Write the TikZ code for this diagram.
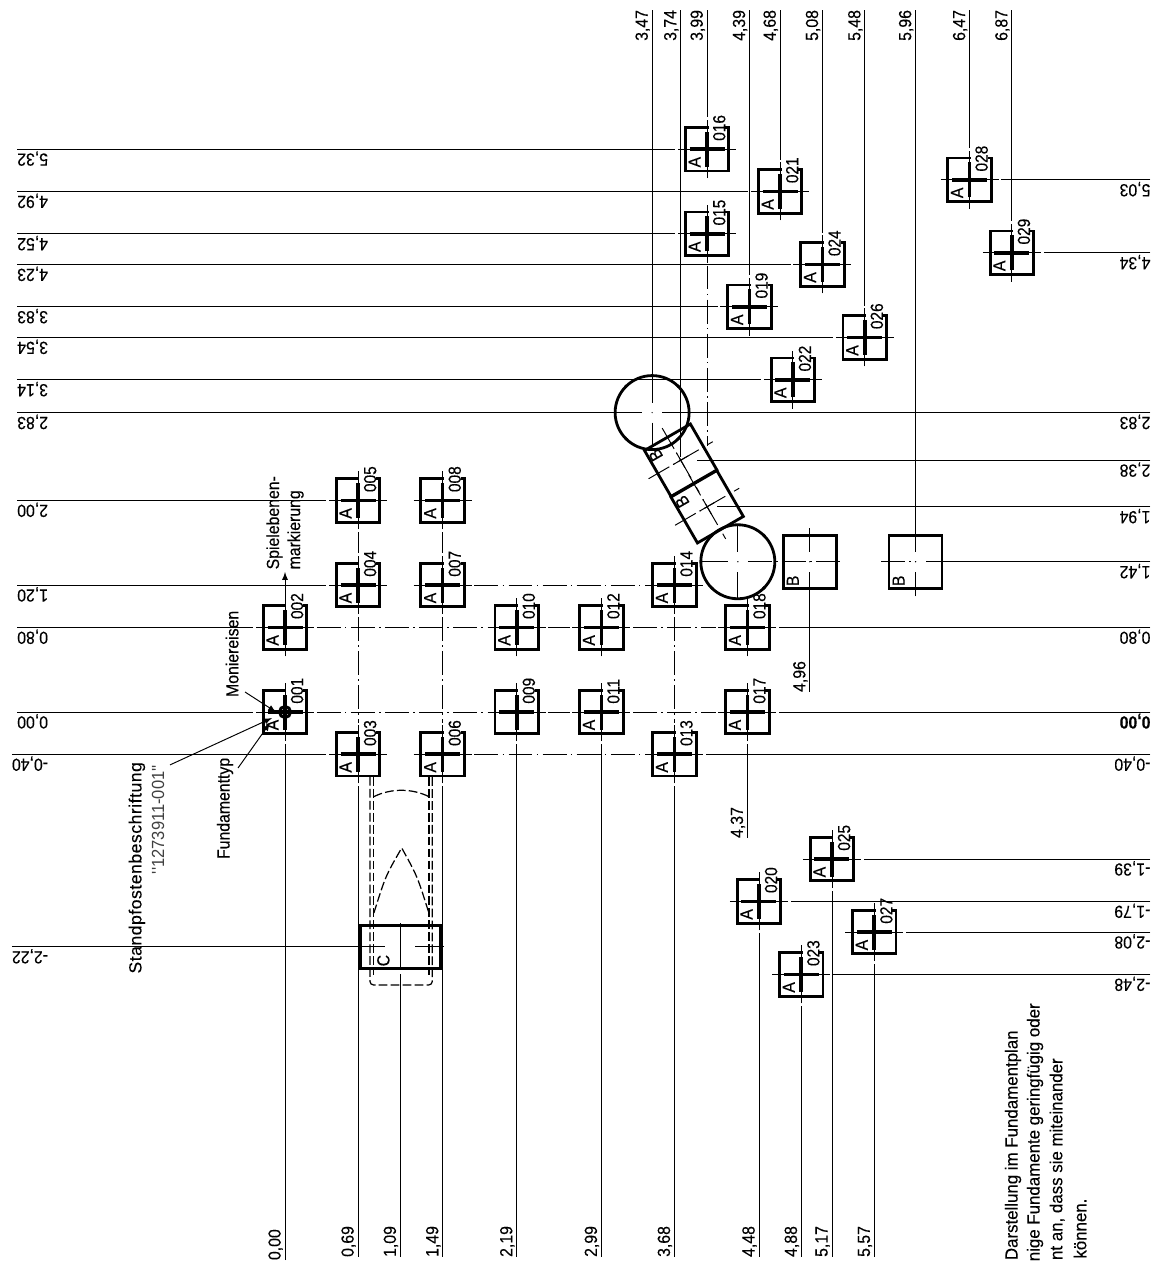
\documentclass[tikz,border=0pt]{standalone}
\usepackage{fontspec}
\setmainfont[FakeStretch=0.9,FakeBold=.2]{Liberation Sans}
\newfontfamily\numfont[FakeStretch=0.88,FakeBold=.2]{Liberation Sans}
\newfontfamily\notefont[FakeStretch=0.9,FakeBold=.2]{Liberation Sans}
\newfontfamily\longfont[FakeStretch=0.96,FakeBold=.2]{Liberation Sans}
\newfontfamily\widefont[LetterSpace=3,FakeBold=.2]{Liberation Sans}
\newfontfamily\thinfont[FakeStretch=0.94]{Liberation Sans}
\usetikzlibrary{positioning}
\tikzset{
  fundbox/.style={rectangle,draw,line width=1.6pt,minimum size=.87cm,inner sep=0pt,outer sep=0pt},
  sqbox/.style={rectangle,draw,line width=1.6pt,minimum size=1.06cm,inner sep=0pt,outer sep=0pt},
  rundbox/.style={circle,draw,line width=1.6pt,minimum size=1.48cm,inner sep=0pt,outer sep=0pt},
  cbox/.style={rectangle,draw,line width=1.6pt,minimum width=1.6cm,minimum height=.87cm,inner sep=0pt,outer sep=0pt},
  tag/.style={rotate=90,inner sep=0pt},
  numtag/.style={rotate=90,anchor=south west,fill=white,inner sep=0pt,text height=9.5pt,text depth=0pt,font=\numfont},
  arm/.style={line width=.55pt},
  bar/.style={line width=2.1pt},
  dimlab/.style={inner xsep=0pt,inner ysep=1pt,text height=7.2pt,text depth=1.5pt,outer sep=0pt},
  toplab/.style={dimlab,rotate=90,anchor=south east},
  botlab/.style={dimlab,rotate=90,anchor=south west},
  sidelab/.style={dimlab,rotate=180,anchor=south west},
  dimline/.style={line width=.55pt,shorten >=5.7pt},
  plainline/.style={line width=.55pt},
  axisline/.style={line width=.55pt,dash pattern=on 13.6pt off 2.5pt on .8pt off 2.5pt},
  gridline/.style={axisline,shorten >=5.7pt,shorten <=5.7pt},
  hidden/.style={line width=.7pt,dash pattern=on 5pt off 1.8pt},
  lead/.style={line width=.55pt,-latex},
  note/.style={rotate=90,inner sep=0pt,font=\notefont},
  longnote/.style={note,font=\longfont}
}
\newcommand{\fund}[3][A]{%
  \node[fundbox] (f#2) at (#3) {};
  \node[numtag] (n#2) at ([shift={(.37cm,.16cm)}]f#2.center) {#2};
  \node[tag] (a#2) at ([shift={(-.25cm,-.26cm)}]f#2.center) {#1};
  \draw[arm] ([xshift=-.58cm]f#2.center) -- ([xshift=.58cm]f#2.center);
  \draw[arm] ([yshift=-.58cm]f#2.center) -- ([yshift=.58cm]f#2.center);
  \draw[bar] ([xshift=-.35cm]f#2.center) -- ([xshift=.35cm]f#2.center);
  \draw[bar] ([yshift=-.35cm]f#2.center) -- ([yshift=.35cm]f#2.center);
}
\begin{document}
\begin{tikzpicture}[x=2.116cm,y=2.116cm]
  \useasboundingbox (-2.694,6.730) rectangle (8.232,-5.227);
  \fund{001}{0,0}
  \fund{002}{0,.80}
  \fund{003}{.69,-.40}
  \fund{004}{.69,1.20}
  \fund{005}{.69,2.00}
  \fund{006}{1.49,-.40}
  \fund{007}{1.49,1.20}
  \fund{008}{1.49,2.00}
  \fund[]{009}{2.19,0}
  \fund{010}{2.19,.80}
  \fund{011}{2.99,0}
  \fund{012}{2.99,.80}
  \fund{013}{3.68,-.40}
  \fund{014}{3.68,1.20}
  \fund{015}{3.99,4.52}
  \fund{016}{3.99,5.32}
  \fund{017}{4.37,0}
  \fund{018}{4.37,.80}
  \fund{019}{4.39,3.83}
  \fund{020}{4.48,-1.79}
  \fund{021}{4.68,4.92}
  \fund{022}{4.80,3.14}
  \fund{023}{4.88,-2.48}
  \fund{024}{5.08,4.23}
  \fund{025}{5.17,-1.39}
  \fund{026}{5.48,3.54}
  \fund{027}{5.57,-2.08}
  \fund{028}{6.47,5.03}
  \fund{029}{6.87,4.34}

  \node[rundbox] (k1) at (3.47,2.83) {};
  \node[rundbox] (k2) at (4.28,1.42) {};
  \node[sqbox,rotate=-60] (r1) at (3.74,2.38) {};
  \node[sqbox,rotate=-60] (r2) at (3.99,1.94) {};
  \node[sqbox] (q1) at (4.96,1.42) {};
  \node[sqbox] (q2) at (5.96,1.42) {};
  \node[cbox] (c1) at (1.09,-2.22) {};
  \node[tag,rotate=30] (b1) at (3.504,2.429) {B};
  \node[tag,rotate=30] (b2) at (3.754,1.989) {B};
  \node[tag] (b3) at ([shift={(-.34cm,-.38cm)}]q1.center) {B};
  \node[tag] (b4) at ([shift={(-.34cm,-.38cm)}]q2.center) {B};
  \node[tag] (c2) at (.93,-2.35) {C};

  \node[toplab] (t347) at (3.47,6.635) {3,47};
  \node[toplab] (t374) at (3.74,6.635) {3,74};
  \node[toplab] (t399) at (3.99,6.635) {3,99};
  \node[toplab] (t439) at (4.39,6.635) {4,39};
  \node[toplab] (t468) at (4.68,6.635) {4,68};
  \node[toplab] (t508) at (5.08,6.635) {5,08};
  \node[toplab] (t548) at (5.48,6.635) {5,48};
  \node[toplab] (t596) at (5.96,6.635) {5,96};
  \node[toplab] (t647) at (6.47,6.635) {6,47};
  \node[toplab] (t687) at (6.87,6.635) {6,87};

  \node[botlab] (b000) at (0,-5.18) {0,00};
  \node[botlab] (b069) at (.69,-5.15) {0,69};
  \node[botlab] (b109) at (1.09,-5.15) {1,09};
  \node[botlab] (b149) at (1.49,-5.15) {1,49};
  \node[botlab] (b219) at (2.19,-5.15) {2,19};
  \node[botlab] (b299) at (2.99,-5.15) {2,99};
  \node[botlab] (b368) at (3.68,-5.15) {3,68};
  \node[botlab] (b448) at (4.48,-5.15) {4,48};
  \node[botlab] (b488) at (4.88,-5.15) {4,88};
  \node[botlab] (b517) at (5.17,-5.15) {5,17};
  \node[botlab] (b557) at (5.57,-5.15) {5,57};
  \node[botlab] (b437) at (4.37,-1.19) {4,37};
  \node[botlab] (b496) at (4.96,.19) {4,96};

  \node[sidelab] (l532) at (-2.24,5.32) {5,32};
  \node[sidelab] (l492) at (-2.24,4.92) {4,92};
  \node[sidelab] (l452) at (-2.24,4.52) {4,52};
  \node[sidelab] (l423) at (-2.24,4.23) {4,23};
  \node[sidelab] (l383) at (-2.24,3.83) {3,83};
  \node[sidelab] (l354) at (-2.24,3.54) {3,54};
  \node[sidelab] (l314) at (-2.24,3.14) {3,14};
  \node[sidelab] (l283) at (-2.24,2.83) {2,83};
  \node[sidelab] (l200) at (-2.24,2.00) {2,00};
  \node[sidelab] (l120) at (-2.24,1.20) {1,20};
  \node[sidelab] (l080) at (-2.24,.80) {0,80};
  \node[sidelab] (l000) at (-2.24,0) {0,00};
  \node[sidelab] (lm040) at (-2.24,-.40) {-0,40};
  \node[sidelab] (lm222) at (-2.24,-2.22) {-2,22};

  \node[sidelab] (r503) at (8.18,5.03) {5,03};
  \node[sidelab] (r434) at (8.18,4.34) {4,34};
  \node[sidelab] (r283) at (8.18,2.83) {2,83};
  \node[sidelab] (r238) at (8.18,2.38) {2,38};
  \node[sidelab] (r194) at (8.18,1.94) {1,94};
  \node[sidelab] (r142) at (8.18,1.42) {1,42};
  \node[sidelab] (r080) at (8.18,.80) {0,80};
  \node[sidelab,font=\bfseries] (r000) at (8.18,0) {0,00};
  \node[sidelab] (rm040) at (8.18,-.40) {-0,40};
  \node[sidelab] (rm139) at (8.18,-1.39) {-1,39};
  \node[sidelab] (rm179) at (8.18,-1.79) {-1,79};
  \node[sidelab] (rm208) at (8.18,-2.08) {-2,08};
  \node[sidelab] (rm248) at (8.18,-2.48) {-2,48};

  \node[note,anchor=west,align=left] (spiel) at (0,1.345) {Spielebenen-\\markierung};
  \node[note,anchor=east] (moni) at (-.50,.96) {Moniereisen};
  \node[note,anchor=east] (typ) at (-.567,-.43) {Fundamenttyp};
  \node[note,anchor=east,font=\widefont] (stand) at (-1.40,-.47) {Standpfostenbeschriftung};
  \node[note,anchor=east,font=\thinfont,text=black!75] (nummer) at (-1.20,-.50) {''1273911-001''};
  \node[longnote,anchor=east] (text1) at (6.881,-3.006) {Darstellung im Fundamentplan};
  \node[longnote,anchor=east] (text2) at (7.089,-2.75) {nige Fundamente geringfügig oder};
  \node[longnote,anchor=east] (text3) at (7.297,-3.27) {nt an, dass sie miteinander};
  \node[longnote,anchor=west] (text4) at (7.514,-5.17) {können.};

  \coordinate (pfeil) at (0,1.323);
  \coordinate (m1) at (-.378,.189);
  \coordinate (m2) at (-.085,0);
  \coordinate (t1) at (-.444,-.529);
  \coordinate (t2) at (-.142,-.104);
  \coordinate (s1) at (-1.087,-.50);
  \coordinate (s2) at (-.123,-.057);
  \coordinate (k1s) at (3.47,2.505);
  \coordinate (x399) at (3.99,2.51);

  \path[dimline]
  (l532.south east) edge (f016.west)
  (l492.south east) edge (f021.west)
  (l452.south east) edge (f015.west)
  (l423.south east) edge (f024.west)
  (l383.south east) edge (f019.west)
  (l354.south east) edge (f026.west)
  (l314.south east) edge (f022.west)
  (l283.south east) edge (k1.center)
  (l200.south east) edge (f005.west)
  (l120.south east) edge (f004.west)
  (l080.south east) edge (f002.west)
  (l000.south east) edge (f001.west)
  (lm040.south east) edge (f003.west)
  (r503.south west) edge (f028.east)
  (r434.south west) edge (f029.east)
  (r283.south west) edge (k1.center)
  (r194.south west) edge (r2.center)
  (r142.south west) edge (q2.center)
  (r080.south west) edge (f018.east)
  (r000.south west) edge (f017.east)
  (rm040.south west) edge (f013.east)
  (rm139.south west) edge (f025.east)
  (rm179.south west) edge (f020.east)
  (rm208.south west) edge (f027.east)
  (rm248.south west) edge (f023.east)
  (t347.south east) edge (k1.center)
  (t399.south east) edge (f016.north)
  (t439.south east) edge (f019.north)
  (t468.south east) edge (f021.north)
  (t508.south east) edge (f024.north)
  (t548.south east) edge (f026.north)
  (t596.south east) edge (q2.center)
  (t647.south east) edge (f028.north)
  (t687.south east) edge (f029.north)
  (b000.south west) edge (f001.south)
  (b069.south west) edge (f003.south)
  (b149.south west) edge (f006.south)
  (b219.south west) edge (f009.south)
  (b299.south west) edge (f011.south)
  (b368.south west) edge (f013.south)
  (b448.south west) edge (f020.south)
  (b488.south west) edge (f023.south)
  (b517.south west) edge (f025.south)
  (b557.south west) edge (f027.south)
  (b437.south west) edge (f017.south)
  (b496.south west) edge (q1.center)
  ([yshift=.14cm]q1.north) edge (q1.center)
  (k2.north) edge (k2.center)
  (k2.south) edge (k2.center)
  (k2.west) edge (k2.center)
  ([yshift=-.16cm]q2.south) edge (q2.center)
  ;
  \draw[plainline,shorten >=9pt] (r238.south west) -- (r1.center);
  \draw[plainline,shorten >=2pt] (t374.south east) -- (r1.center);
  \draw[plainline,shorten <=5.7pt] (k1.center) -- (k1s);
  \draw[plainline,shorten >=2pt] (lm222.south east) -- ([xshift=-.24cm]c1.center);
  \draw[plainline] ([xshift=.3cm]c1.center) -- ([xshift=.08cm]c1.east);
  \draw[plainline] (b109.south west) -- ([yshift=-.54cm]c1.center);
  \draw[plainline] (c1.south) -- ([yshift=.05cm]c1.north);

  \path[gridline]
  (f005.south) edge (f004.north)
  (f004.south) edge (f003.north)
  (f008.south) edge (f007.north)
  (f007.south) edge (f006.north)
  (f014.south) edge (f013.north)
  (f002.east) edge (f010.west)
  (f010.east) edge (f012.west)
  (f012.east) edge (f018.west)
  (f001.east) edge (f009.west)
  (f009.east) edge (f011.west)
  (f011.east) edge (f017.west)
  (f007.east) edge (f014.west)
  (f006.east) edge (f013.west)
  ;
  \draw[axisline,shorten <=5.7pt] (f015.south) -- (x399);
  \draw[axisline,shorten <=5.7pt] (k2.center) -- ([xshift=.16cm]q1.east);
  \draw[axisline] ([xshift=-.16cm]q2.west) -- (q2.center);
  \draw[axisline,shorten <=-6pt,shorten >=-6pt] (r1.west) -- (r1.east);
  \draw[axisline,shorten <=-6pt,shorten >=-6pt] (r1.south) -- (r1.north);
  \draw[axisline,shorten <=-6pt,shorten >=-6pt] (r2.west) -- (r2.east);
  \draw[axisline,shorten <=-6pt,shorten >=-6pt] (r2.south) -- (r2.north);
  \draw[arm] ([shift={(-150:.17cm)}]r1.center) -- ([shift={(30:.17cm)}]r1.center);
  \draw[arm] ([shift={(120:.17cm)}]r1.center) -- ([shift={(-60:.17cm)}]r1.center);
  \draw[arm] ([shift={(-150:.17cm)}]r2.center) -- ([shift={(30:.17cm)}]r2.center);
  \draw[arm] ([shift={(120:.17cm)}]r2.center) -- ([shift={(-60:.17cm)}]r2.center);

  \fill (k1.45) circle (1.1pt) (k1.135) circle (1.1pt) (k1.225) circle (1.1pt) (k1.315) circle (1.1pt);
  \fill (k2.45) circle (1.1pt) (k2.135) circle (1.1pt) (k2.225) circle (1.1pt) (k2.315) circle (1.1pt);
  \fill (k1.center) circle (.4pt) (k2.center) circle (.4pt) (q1.center) circle (.4pt) (q2.center) circle (.4pt);

  \draw[hidden,rounded corners=2pt] (.803,-.614) -- (.803,-2.58) -- (1.392,-2.58) -- (1.392,-.614);
  \draw[hidden] (.835,-.614) -- (.835,-2.486);
  \draw[hidden] (1.361,-.614) -- (1.361,-2.486);
  \draw[hidden] (.84,-.80) .. controls (1.0,-.72) and (1.2,-.72) .. (1.36,-.80);
  \draw[hidden] (.84,-1.90) .. controls (.95,-1.55) .. (1.103,-1.285) .. controls (1.25,-1.55) .. (1.36,-1.90);

  \draw[lead] (f002.center) -- (pfeil);
  \draw[lead] (m1) -- (m2);
  \draw[lead] (t1) -- (t2);
  \draw[lead] (s1) -- (s2);
  \draw[line width=1.6pt] (f001.center) circle (3.2pt);
  \fill (f001.center) circle (2pt);
\end{tikzpicture}
\end{document}
